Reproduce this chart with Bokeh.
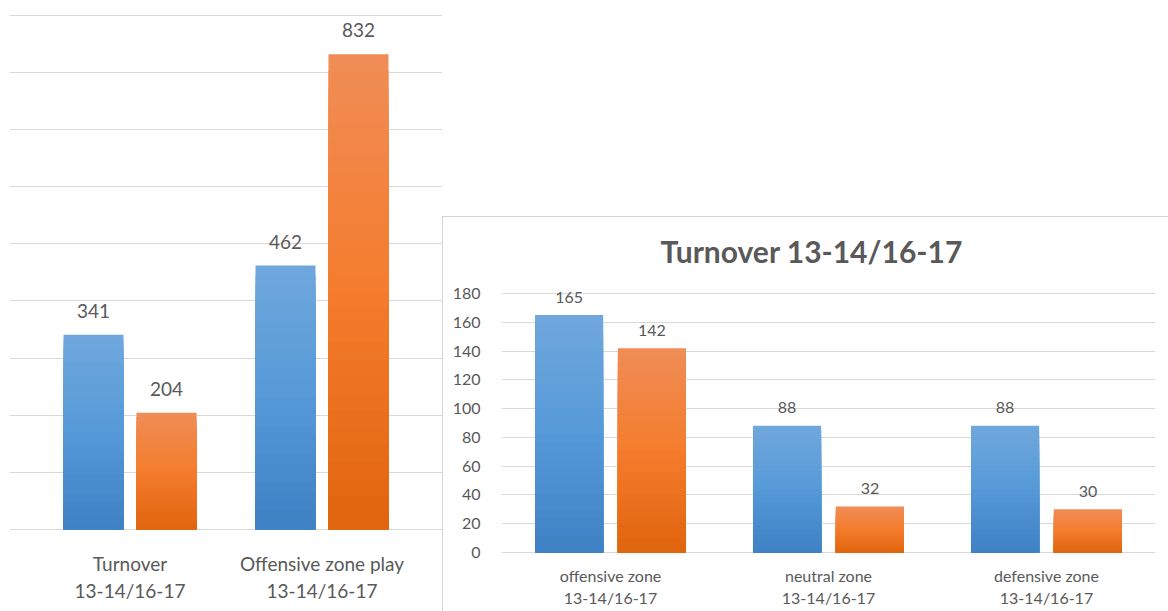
from bokeh.plotting import figure
from bokeh.models import ColumnDataSource, FactorRange, Range1d, FixedTicker, Title, Spacer
from bokeh.layouts import row, column
from bokeh.transform import dodge
from bokeh.core.properties import value
from bokeh.embed import file_html
from bokeh.resources import INLINE

# ---- data -------------------------------------------------------------
overview_cats = ["Turnover\n13-14/16-17", "Offensive zone play\n13-14/16-17"]
overview_1314 = [341, 462]
overview_1617 = [204, 832]
overview_ticks = [0, 100, 200, 300, 400, 500, 600, 700, 800, 900]

zone_cats = ["offensive zone\n13-14/16-17", "neutral zone\n13-14/16-17", "defensive zone\n13-14/16-17"]
zone_1314 = [165, 88, 88]
zone_1617 = [142, 32, 30]
zone_ticks = [0, 20, 40, 60, 80, 100, 120, 140, 160, 180]
zone_title = "Turnover 13-14/16-17"

# ---- style ------------------------------------------------------------
FONT = value("Lato")
TEXT = "#595959"
GRID = "#d9d9d9"
BLUE = ("#6fa7dc", "#5599d8", "#3f82c5")      # top, middle, bottom of gradient
ORANGE = ("#f08c55", "#f47c2c", "#e2650f")
BANDS = 28
OFFSET = 0.19
BAR_W = 0.3125


def mix(c1, c2, t):
    a = [int(c1[i:i + 2], 16) for i in (1, 3, 5)]
    b = [int(c2[i:i + 2], 16) for i in (1, 3, 5)]
    return "#%02x%02x%02x" % tuple(round(x + (y - x) * t) for x, y in zip(a, b))


def ramp(stops, t):
    if t <= 0.5:
        return mix(stops[0], stops[1], t * 2)
    return mix(stops[1], stops[2], (t - 0.5) * 2)


def gradient_bars(p, cats, vals, offset, colors):
    """Bar with a vertical gradient: successively shorter bars, darker toward the base."""
    for k in range(BANDS):
        frac = 1 - k / BANDS
        src = ColumnDataSource(dict(cat=cats, top=[v * frac for v in vals]))
        p.vbar(x=dodge("cat", offset, range=p.x_range), top="top", bottom=0,
               width=BAR_W, source=src, line_color=None,
               fill_color=ramp(colors, k / (BANDS - 1)))


def value_labels(p, cats, vals, offset, size, lift):
    src = ColumnDataSource(dict(cat=cats, v=vals, t=[str(v) for v in vals]))
    p.text(x=dodge("cat", offset, range=p.x_range), y="v", text="t", source=src,
           text_align="center", text_baseline="middle", y_offset=-lift,
           text_font=FONT, text_font_size=size, text_color=TEXT)


def style_common(p):
    p.outline_line_color = None
    p.xgrid.grid_line_color = None
    p.ygrid.grid_line_color = GRID
    p.ygrid.grid_line_width = 1
    p.xaxis.axis_line_color = None
    p.xaxis.major_tick_line_color = None
    p.xaxis.minor_tick_line_color = None
    p.xaxis.major_label_text_font = "Lato"
    p.xaxis.major_label_text_color = TEXT
    p.background_fill_color = "white"
    p.border_fill_color = "white"


# ---- overview chart (left) ------------------------------------------
left = figure(width=442, height=611, output_backend="svg", toolbar_location=None,
              x_range=FactorRange(*overview_cats, range_padding=0.1276,
                                  range_padding_units="absolute"),
              y_range=Range1d(-2, 926.2),
              min_border_left=9, min_border_right=0, min_border_top=0,
              min_border_bottom=81)
style_common(left)
left.yaxis.visible = False
left.yaxis.ticker = FixedTicker(ticks=overview_ticks)
left.ygrid.ticker = FixedTicker(ticks=overview_ticks)
left.xaxis.major_label_text_font_size = "19px"
left.xaxis.major_label_standoff = 15

gradient_bars(left, overview_cats, overview_1314, -OFFSET, BLUE)
gradient_bars(left, overview_cats, overview_1617, OFFSET, ORANGE)
value_labels(left, overview_cats, overview_1314, -OFFSET, "19px", 24)
value_labels(left, overview_cats, overview_1617, OFFSET, "19px", 24)

# ---- zone chart (right) ---------------------------------------------
right = figure(width=726, height=395, output_backend="svg", toolbar_location=None,
               x_range=FactorRange(*zone_cats, range_padding=0),
               y_range=Range1d(-0.7, 189.7),
               min_border_left=58, min_border_right=14, min_border_top=62,
               min_border_bottom=59)
right.title = Title(text=zone_title, align="left", offset=159,
                    text_font="Lato", text_font_style="bold", text_font_size="30px",
                    text_color=TEXT, standoff=22)
style_common(right)
right.yaxis.ticker = FixedTicker(ticks=zone_ticks)
right.ygrid.ticker = FixedTicker(ticks=zone_ticks)
right.yaxis.axis_line_color = None
right.yaxis.major_tick_line_color = None
right.yaxis.minor_tick_line_color = None
right.yaxis.major_label_standoff = 15
right.yaxis.major_label_text_font = "Lato"
right.yaxis.major_label_text_font_size = "16px"
right.yaxis.major_label_text_color = TEXT
right.xaxis.major_label_text_font_size = "16px"
right.xaxis.major_label_standoff = 6
right.styles = {"border-top": "1px solid #d4d4d4", "border-left": "1px solid #d4d4d4"}

gradient_bars(right, zone_cats, zone_1314, -OFFSET, BLUE)
gradient_bars(right, zone_cats, zone_1617, OFFSET, ORANGE)
value_labels(right, zone_cats, zone_1314, -OFFSET, "16px", 18)
value_labels(right, zone_cats, zone_1617, OFFSET, "16px", 18)

layout = row(left, column(Spacer(width=726, height=216), right))

open("out.html", "w").write(file_html(layout, INLINE))
